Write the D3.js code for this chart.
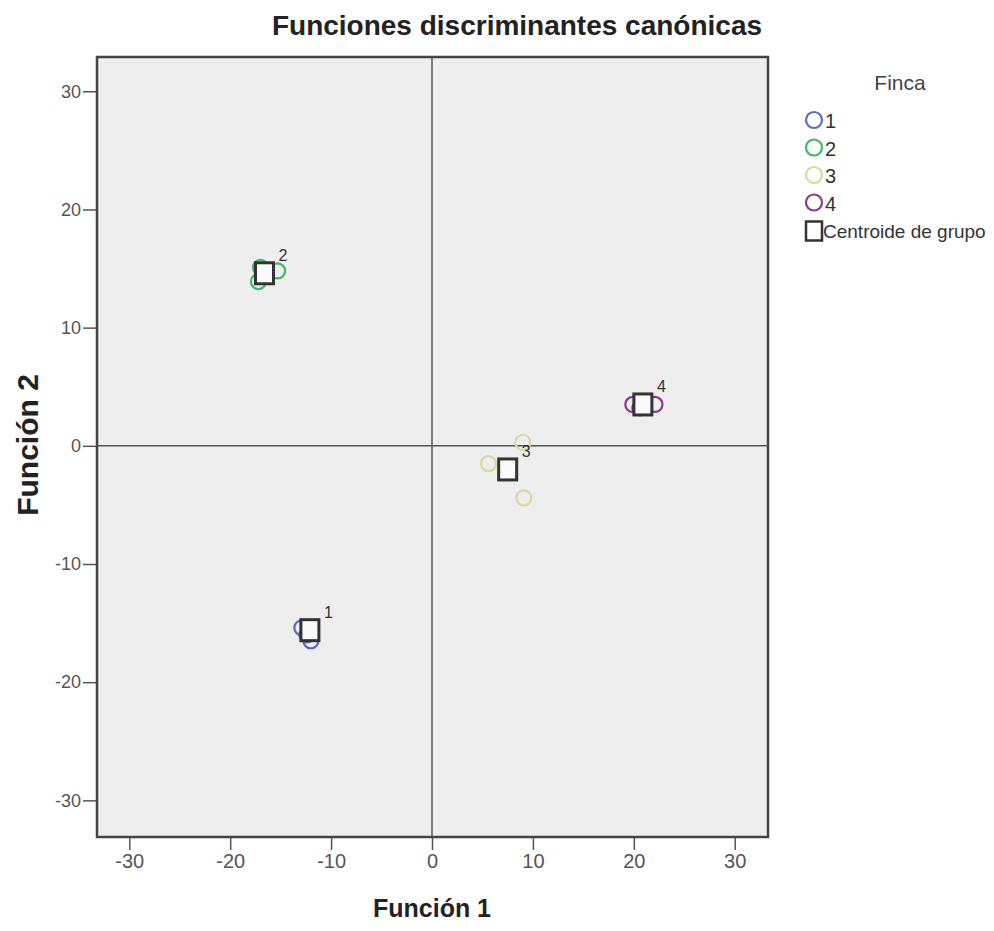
<!DOCTYPE html>
<html>
<head>
<meta charset="utf-8">
<script src="https://cdn.jsdelivr.net/npm/d3@7"></script>
<style>
  body { margin: 0; background: #fff; }
  text { font-family: "Liberation Sans", Arial, sans-serif; }
</style>
</head>
<body>
<svg id="chart" width="994" height="931"></svg>
<script>
// group scores (Función 1, Función 2)
var groups = ["1", "2", "3", "4"];
var groupColors = ["#5b6cc0", "#3cb868", "#dcd8a0", "#8a3a8c"];
var pointsF1 = [-12.9, -12.0, -12.4, -17.2, -15.3, -17.0, 9.1, 9.0, 5.6, 19.9, 22.1, 20.6];
var pointsF2 = [-15.4, -16.5, -16.0, 13.9, 14.8, 15.1, -4.4, 0.3, -1.5, 3.5, 3.5, 3.2];
var pointsGroup = ["1", "1", "1", "2", "2", "2", "3", "3", "3", "4", "4", "4"];
var centroidF1 = [-12.1, -16.6, 7.5, 20.9];
var centroidF2 = [-15.6, 14.6, -2.0, 3.5];
var xTicks = [-30, -20, -10, 0, 10, 20, 30];
var yTicks = [30, 20, 10, 0, -10, -20, -30];

var svg = d3.select("#chart");
var plot = {left: 97, top: 57, right: 768, bottom: 837};
var narrow = "'Liberation Sans Narrow', 'Liberation Sans', sans-serif";

var x = d3.scaleLinear().domain([-33.2, 33.3]).range([plot.left, plot.right]);
var y = d3.scaleLinear().domain([-33.1, 32.9]).range([plot.bottom, plot.top]);
var color = d3.scaleOrdinal().domain(groups).range(groupColors);
var fmt = function(d) { return String(d); }; // plain hyphen, as in SPSS

// title
svg.append("text")
    .attr("x", 517).attr("y", 35)
    .attr("text-anchor", "middle")
    .attr("font-size", 28).attr("font-weight", "bold")
    .attr("fill", "#222")
    .text("Funciones discriminantes canónicas");

// plot background
svg.append("rect")
    .attr("x", plot.left).attr("y", plot.top)
    .attr("width", plot.right - plot.left).attr("height", plot.bottom - plot.top)
    .attr("fill", "#eeeeee").attr("stroke", "#444").attr("stroke-width", 2.5);

// reference lines at 0
svg.append("line")
    .attr("x1", x(0)).attr("x2", x(0)).attr("y1", plot.top).attr("y2", plot.bottom)
    .attr("stroke", "#555").attr("stroke-width", 1.5);
svg.append("line")
    .attr("x1", plot.left).attr("x2", plot.right).attr("y1", y(0)).attr("y2", y(0))
    .attr("stroke", "#555").attr("stroke-width", 1.5);

// axes
var xAxis = svg.append("g")
    .attr("transform", "translate(0," + (plot.bottom + 1) + ")")
    .call(d3.axisBottom(x).tickValues(xTicks).tickFormat(fmt).tickSize(12).tickPadding(4));
var yAxis = svg.append("g")
    .attr("transform", "translate(" + (plot.left - 1) + ",0)")
    .call(d3.axisLeft(y).tickValues(yTicks).tickFormat(fmt).tickSize(13).tickPadding(2));
[xAxis, yAxis].forEach(function(a) {
    a.select(".domain").remove();
    a.selectAll(".tick line").attr("stroke", "#555").attr("stroke-width", 1.5);
    a.selectAll(".tick text").attr("fill", "#555").style("font-family", narrow);
});
xAxis.selectAll(".tick text").attr("font-size", 20);
yAxis.selectAll(".tick text").attr("font-size", 18);

// axis titles
svg.append("text")
    .attr("x", 432).attr("y", 917)
    .attr("text-anchor", "middle")
    .attr("font-size", 25).attr("font-weight", "bold").attr("fill", "#222")
    .text("Función 1");
svg.append("text")
    .attr("transform", "translate(38," + 445 + ") rotate(-90)")
    .attr("text-anchor", "middle")
    .attr("font-size", 30).attr("font-weight", "bold").attr("fill", "#222")
    .text("Función 2");

// points
svg.append("g").selectAll("circle")
    .data(pointsF1.map(function(d, i) { return {f1: d, f2: pointsF2[i], g: pointsGroup[i]}; }))
    .enter().append("circle")
    .attr("cx", function(d) { return x(d.f1); })
    .attr("cy", function(d) { return y(d.f2); })
    .attr("r", 7.5)
    .attr("fill", "none")
    .attr("stroke", function(d) { return color(d.g); })
    .attr("stroke-width", 2.2);

// centroids
var cent = svg.append("g").selectAll("g")
    .data(groups.map(function(g, i) { return {g: g, f1: centroidF1[i], f2: centroidF2[i]}; }))
    .enter().append("g")
    .attr("transform", function(d) { return "translate(" + x(d.f1) + "," + y(d.f2) + ")"; });
cent.append("rect")
    .attr("x", -9).attr("y", -10.5).attr("width", 18).attr("height", 21)
    .attr("fill", "#fafafa").attr("stroke", "#333").attr("stroke-width", 3);
cent.append("text")
    .attr("x", 14).attr("y", -12)
    .attr("font-size", 16).attr("fill", "#333")
    .style("font-family", narrow)
    .text(function(d) { return d.g; });

// legend
var legend = svg.append("g");
legend.append("text")
    .attr("x", 900).attr("y", 90)
    .attr("text-anchor", "middle")
    .attr("font-size", 21).attr("fill", "#444")
    .style("font-family", narrow)
    .text("Finca");
var items = legend.selectAll("g.item").data(groups).enter().append("g")
    .attr("transform", function(d, i) { return "translate(814," + (120 + i * 27.5) + ")"; });
items.append("circle")
    .attr("r", 8).attr("fill", "none")
    .attr("stroke", function(d) { return color(d); }).attr("stroke-width", 2.2);
items.append("text")
    .attr("x", 11).attr("y", 8)
    .attr("font-size", 20).attr("fill", "#333")
    .style("font-family", narrow)
    .text(function(d) { return d; });
var cItem = legend.append("g").attr("transform", "translate(814,231)");
cItem.append("rect")
    .attr("x", -8).attr("y", -9.5).attr("width", 16).attr("height", 19)
    .attr("fill", "none").attr("stroke", "#333").attr("stroke-width", 2.5);
cItem.append("text")
    .attr("x", 9).attr("y", 7)
    .attr("font-size", 19).attr("fill", "#333")
    .style("font-family", narrow)
    .text("Centroide de grupo");
</script>
</body>
</html>
